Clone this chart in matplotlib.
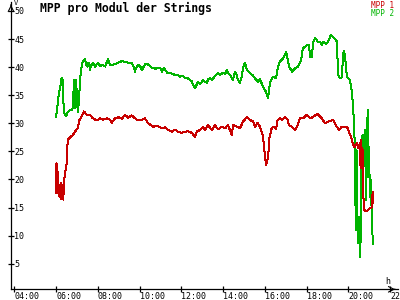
import matplotlib
matplotlib.use("Agg")
import matplotlib.pyplot as plt

# MPP 1 (red) - time in decimal hours, voltage per module
t_mpp1 = [6.00, 6.02, 6.07, 6.12, 6.17, 6.22, 6.26, 6.31, 6.35, 6.38, 6.43, 6.51, 6.53, 6.59,
          6.70, 6.81, 6.96, 7.05, 7.10, 7.23, 7.34, 7.47, 7.63, 7.76, 7.95, 8.11, 8.25, 8.43,
          8.59, 8.67, 8.83, 8.98, 9.15, 9.31, 9.45, 9.63, 9.78, 9.93, 10.11, 10.26, 10.41,
          10.65, 10.89, 11.06, 11.22, 11.37, 11.54, 11.70, 11.84, 12.02, 12.18, 12.32, 12.50,
          12.66, 12.74, 12.90, 13.04, 13.14, 13.28, 13.46, 13.62, 13.76, 13.94, 14.10, 14.24,
          14.42, 14.48, 14.66, 14.81, 14.96, 15.14, 15.29, 15.44, 15.53, 15.64, 15.77, 15.92,
          16.01, 16.06, 16.17, 16.20, 16.33, 16.44, 16.54, 16.62, 16.73, 16.83, 16.97, 17.10,
          17.16, 17.29, 17.45, 17.58, 17.69, 17.85, 18.01, 18.17, 18.31, 18.49, 18.55, 18.73,
          18.89, 19.03, 19.27, 19.45, 19.57, 19.69, 19.84, 19.97, 20.04, 20.13, 20.24, 20.30,
          20.40, 20.48, 20.56, 20.59, 20.61, 20.64, 20.71, 20.73, 20.75, 20.88, 21.04, 21.12,
          21.17, 21.20]
mpp1 = [17.6, 22.9, 21.5, 17.5, 16.9, 19.4, 16.5, 19.0, 16.4, 19.6, 21.1, 22.9, 25.8, 27.2,
        27.6, 27.9, 28.8, 29.1, 30.4, 31.3, 32.1, 31.5, 31.5, 30.9, 30.5, 30.9, 30.6, 30.9,
        30.6, 30.1, 30.9, 31.1, 30.8, 31.5, 31.0, 31.4, 30.9, 30.5, 30.6, 30.9, 30.0,
        29.4, 29.5, 29.1, 29.3, 28.8, 28.5, 28.9, 28.5, 28.3, 28.5, 28.6, 28.3,
        27.6, 28.5, 28.8, 29.4, 28.8, 29.7, 28.8, 29.7, 28.9, 29.4, 29.1, 29.7,
        27.9, 29.7, 29.4, 29.1, 30.3, 31.1, 30.6, 30.3, 29.3, 30.1, 29.4, 27.6,
        24.1, 22.6, 24.1, 27.0, 29.1, 29.4, 29.0, 30.6, 30.9, 30.6, 31.1, 30.6,
        29.7, 29.4, 28.8, 29.7, 30.9, 30.9, 31.5, 30.9, 31.1, 31.6, 31.6, 30.9,
        30.0, 30.3, 30.6, 29.4, 28.8, 29.4, 29.4, 29.2, 28.3, 27.6, 26.1, 25.8,
        26.5, 25.6, 26.5, 22.0, 27.0, 25.5, 25.2, 16.7, 14.6, 14.3, 14.9, 15.0,
        17.8, 15.8]

# MPP 2 (green)
t_mpp2 = [6.00, 6.05, 6.10, 6.14, 6.19, 6.24, 6.27, 6.31, 6.34, 6.38, 6.43, 6.48, 6.57, 6.67,
          6.77, 6.81, 6.86, 6.89, 6.91, 6.96, 7.01, 7.04, 7.10, 7.15, 7.20, 7.28, 7.34, 7.39,
          7.44, 7.49, 7.53, 7.58, 7.63, 7.68, 7.77, 7.87, 8.01, 8.11, 8.25, 8.35, 8.49, 8.59,
          8.73, 8.92, 9.07, 9.16, 9.31, 9.45, 9.64, 9.74, 9.78, 9.83, 9.93, 10.02, 10.12, 10.26,
          10.36, 10.50, 10.60, 10.74, 10.84, 10.98, 11.08, 11.17, 11.32, 11.46, 11.60, 11.70,
          11.84, 11.94, 12.08, 12.18, 12.32, 12.42, 12.51, 12.56, 12.66, 12.73, 12.80, 12.90,
          12.97, 13.04, 13.14, 13.23, 13.28, 13.38, 13.47, 13.62, 13.76, 13.86, 14.00, 14.10,
          14.19, 14.26, 14.34, 14.48, 14.57, 14.65, 14.72, 14.81, 14.89, 14.96, 15.05, 15.15,
          15.29, 15.41, 15.53, 15.68, 15.77, 15.92, 16.06, 16.16, 16.25, 16.40, 16.54, 16.63,
          16.73, 16.87, 17.02, 17.07, 17.16, 17.31, 17.45, 17.59, 17.74, 17.83, 17.93, 18.02,
          18.12, 18.17, 18.26, 18.31, 18.41, 18.55, 18.65, 18.74, 18.79, 18.89, 18.98, 19.08,
          19.17, 19.27, 19.37, 19.46, 19.51, 19.60, 19.70, 19.75, 19.80, 19.84, 19.94, 20.08,
          20.13, 20.18, 20.21, 20.28, 20.32, 20.36, 20.40, 20.45, 20.51, 20.56, 20.61, 20.64,
          20.69, 20.72, 20.77, 20.80, 20.85, 20.88, 20.93, 20.96, 20.99, 21.04, 21.07, 21.12,
          21.17, 21.20]
mpp2 = [31.1, 32.5, 34.0, 35.5, 36.0, 37.5, 38.1, 38.0, 35.0, 32.0, 31.5, 31.3, 32.0, 32.4,
        32.4, 33.0, 37.7, 35.0, 32.7, 37.7, 34.0, 32.0, 34.0, 37.7, 39.5, 41.0, 41.3, 41.5,
        40.5, 40.1, 40.6, 40.8, 39.5, 40.3, 40.7, 40.1, 40.8, 40.2, 40.4, 40.1, 41.4, 40.4,
        40.4, 40.7, 40.9, 41.1, 40.9, 40.8, 40.7, 39.8, 39.2, 39.8, 40.4, 40.2, 39.5, 40.5,
        40.6, 40.2, 39.9, 39.7, 39.8, 39.9, 39.2, 39.9, 39.0, 38.9, 38.8, 38.6,
        38.6, 38.3, 38.4, 38.0, 38.0, 37.7, 37.5, 36.8, 36.3, 36.8, 37.4, 37.0,
        37.2, 37.7, 37.4, 37.2, 37.8, 38.0, 37.7, 38.4, 38.9, 38.6, 39.0, 38.8,
        39.5, 38.9, 38.6, 37.7, 39.2, 38.6, 37.7, 37.2, 38.2, 39.8, 40.8, 39.5,
        38.9, 38.6, 38.0, 37.4, 37.8, 36.5, 35.6, 34.5, 37.2, 38.3, 38.0, 40.1,
        41.0, 41.5, 42.7, 42.0, 40.1, 39.2, 39.8, 40.0, 41.3, 43.4, 43.6, 43.9,
        44.0, 41.8, 41.8, 44.3, 45.2, 44.5, 44.5, 43.9, 44.5, 44.2, 44.2, 45.0,
        45.7, 45.4, 45.0, 44.5, 38.6, 38.0, 38.2, 42.5, 42.8, 42.0, 38.2, 37.7,
        36.6, 35.5, 33.8, 30.0, 24.7, 11.0, 25.2, 8.7, 13.4, 6.2, 11.0, 27.0,
        27.9, 21.7, 25.6, 28.8, 16.3, 24.0, 32.4, 20.5, 25.8, 16.9, 20.0, 14.6,
        9.2, 8.6]

x_ticks = [4, 6, 8, 10, 12, 14, 16, 18, 20, 22]
x_labels = ["04:00", "06:00", "08:00", "10:00", "12:00", "14:00", "16:00", "18:00", "20:00", "22:00"]
y_ticks = [5, 10, 15, 20, 25, 30, 35, 40, 45, 50]

red = "#c80000"
green = "#00b400"
mono = "DejaVu Sans Mono"

fig = plt.figure(figsize=(4, 3), dpi=100)
ax = fig.add_axes([11 / 400, 10.7 / 300, 387 / 400, 287.3 / 300])

ax.plot(t_mpp2, mpp2, color=green, lw=0.72, antialiased=False)
ax.plot(t_mpp1, mpp1, color=red, lw=0.72, antialiased=False)

ax.set_xlim(3.844, 22.383)
ax.set_ylim(0.445, 51.59)

for s in ["top", "right"]:
    ax.spines[s].set_visible(False)
for s in ["left", "bottom"]:
    ax.spines[s].set_linewidth(0.9)

ax.set_xticks(x_ticks)
ax.set_xticklabels(x_labels, family=mono, fontsize=6)
ax.set_yticks(y_ticks)
ax.set_yticklabels([str(v) for v in y_ticks], family=mono, fontsize=6)
ax.tick_params(axis="both", direction="inout", length=4.5, width=0.9)
ax.tick_params(axis="x", pad=0)
ax.tick_params(axis="y", pad=-4.5)
for lab in ax.get_xticklabels():
    lab.set_horizontalalignment("left")
for lab in ax.get_yticklabels():
    lab.set_horizontalalignment("left")

# axis arrows
ax.annotate("", xy=(1.0, 0), xytext=(0.985, 0), xycoords="axes fraction",
            arrowprops=dict(arrowstyle="->", lw=0.8, color="black"))
ax.annotate("", xy=(0, 1.0), xytext=(0, 0.98), xycoords="axes fraction",
            arrowprops=dict(arrowstyle="->", lw=0.8, color="black"))

fig.text(14 / 400, 1 - 3 / 300, "V", family=mono, fontsize=5, va="center", ha="left")
fig.text(385 / 400, 1 - 281 / 300, "h", family=mono, fontsize=6, va="center", ha="left")

fig.text(40 / 400, 1 - 8 / 300, "MPP pro Modul der Strings", family=mono, fontsize=8.3,
         fontweight="bold", va="center", ha="left")
fig.text(394 / 400, 1 - 6 / 300, "MPP 1", family=mono, fontsize=5.5, color=red,
         va="center", ha="right")
fig.text(394 / 400, 1 - 14 / 300, "MPP 2", family=mono, fontsize=5.5, color=green,
         va="center", ha="right")

fig.savefig("out.png", dpi=100)
